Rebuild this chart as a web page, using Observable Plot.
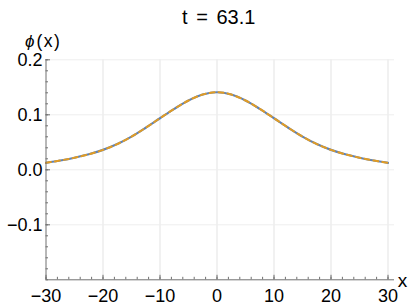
<!DOCTYPE html>
<html><head><meta charset="utf-8">
<script src="https://cdn.jsdelivr.net/npm/d3@7"></script>
<script src="https://cdn.jsdelivr.net/npm/@observablehq/plot@0.6"></script>
<style>html,body{margin:0;padding:0;background:#fff} svg{display:block}</style>
</head><body><div id="chart"></div>
<script>
const titleText = "t = 63.1";
const yLabelSymbol = "\u03d5";
const yLabelRest = "(x)";
const xLabelText = "x";
const xs = [-30,-27.5,-25,-22.5,-20,-17.5,-15,-12.5,-10,-7.5,-5,-2.5,0,2.5,5,7.5,10,12.5,15,17.5,20,22.5,25,27.5,30];
const phiNumeric = [0.0127,0.0169,0.0220,0.0282,0.0362,0.0468,0.0603,0.0765,0.0938,0.1108,0.1260,0.1368,0.1410,0.1368,0.1260,0.1108,0.0938,0.0765,0.0603,0.0468,0.0362,0.0282,0.0220,0.0169,0.0127];
const phiExact   = [0.0127,0.0169,0.0220,0.0282,0.0362,0.0468,0.0603,0.0765,0.0938,0.1108,0.1260,0.1368,0.1410,0.1368,0.1260,0.1108,0.0938,0.0765,0.0603,0.0468,0.0362,0.0282,0.0220,0.0169,0.0127];
const xTicks = [-30,-20,-10,0,10,20,30];
const xTickLabels = ["\u221230","\u221220","\u221210","0","10","20","30"];
const yTicks = [-0.1,0,0.1,0.2];
const yTickLabels = ["\u22120.1","0.0","0.1","0.2"];
const xMinor = d3.range(-30, 30.01, 2);
const yMinor = d3.range(-10, 10.5, 1).map(v => v / 50);

const data = xs.map((x, i) => ({x, a: phiNumeric[i], b: phiExact[i]}));
const axisColor = "#707070";
const fs = 18;

const chart = Plot.plot({
  width: 415, height: 307,
  marginLeft: 45.5, marginRight: 21, marginTop: 59.3, marginBottom: 27.7,
  x: {domain: [-30, 31.14], axis: null},
  y: {domain: [-0.2, 0.2], axis: null},
  style: {fontFamily: "'Liberation Sans', Arial, sans-serif", background: "white", color: "black"},
  marks: [
    Plot.ruleX(xTicks.slice(1), {stroke: "#e3e3e3", strokeWidth: 1}),
    Plot.ruleY(yTicks, {stroke: "#eeeeee", strokeWidth: 1}),
    Plot.line(data, {x: "x", y: "a", stroke: "#5E81B5", strokeWidth: 2.2, curve: "catmull-rom"}),
    Plot.line(data, {x: "x", y: "b", stroke: "#E19C24", strokeWidth: 2, strokeDasharray: "5,4", curve: "catmull-rom"}),
    Plot.ruleY([-0.2], {stroke: axisColor}),
    Plot.ruleX([-30], {stroke: axisColor}),
    Plot.axisX({ticks: xMinor, tickSize: -2.5, tickFormat: () => "", label: null, stroke: axisColor}),
    Plot.axisX({ticks: xTicks, tickSize: -4.5, tickFormat: () => "", label: null, stroke: axisColor}),
    Plot.axisY({ticks: yMinor, tickSize: -2.5, tickFormat: () => "", label: null, stroke: axisColor}),
    Plot.axisY({ticks: yTicks, tickSize: -4.5, tickFormat: () => "", label: null, stroke: axisColor}),
    Plot.text(xTicks, {x: d => d, text: (d, i) => xTickLabels[i], frameAnchor: "bottom", lineAnchor: "top", dy: 9.5, fontSize: fs, fill: "black"}),
    Plot.text(yTicks, {y: d => d, text: (d, i) => yTickLabels[i], frameAnchor: "left", textAnchor: "end", dx: -3.5, dy: 0.5, fontSize: fs, fill: "black"}),
    Plot.text([titleText], {frameAnchor: "top", lineAnchor: "middle", dx: -1.5, dy: -42.5, fontSize: 20, fill: "black"}),
    Plot.text([yLabelSymbol + yLabelRest], {frameAnchor: "top-left", textAnchor: "start", lineAnchor: "middle", dx: -21, dy: -18, fontSize: 17.5, fill: "black"}),
    Plot.text([xLabelText], {frameAnchor: "bottom-right", textAnchor: "middle", lineAnchor: "middle", dx: 8, dy: 1.5, fontSize: 19, fill: "black"})
  ]
});
d3.select(chart).selectAll("text").each(function() {
  const t = this.textContent;
  if (t === titleText) this.style.wordSpacing = "3px";
  if (t === yLabelSymbol + yLabelRest) {
    const el = d3.select(this);
    el.text(null);
    el.append("tspan").attr("font-style", "italic").attr("font-size", 17).text(yLabelSymbol);
    el.append("tspan").attr("dx", 2).style("letter-spacing", "1.5px").text(yLabelRest);
  }
});
document.getElementById("chart").appendChild(chart);
</script>
</body></html>
